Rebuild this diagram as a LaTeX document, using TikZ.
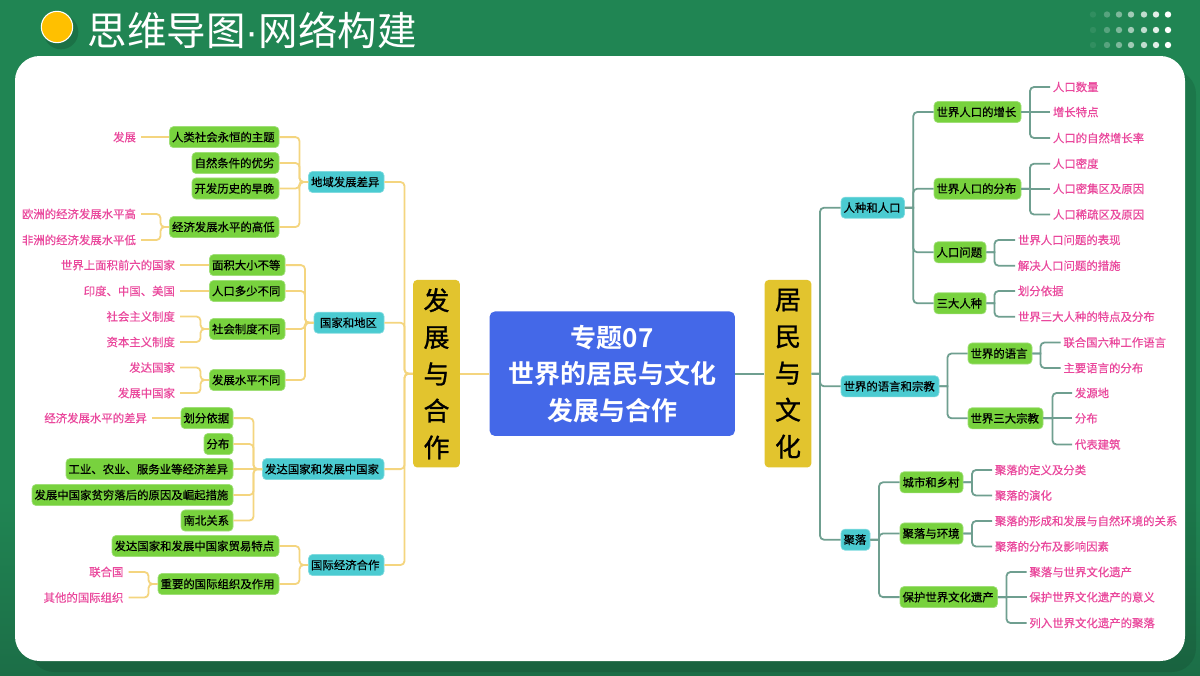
\documentclass[tikz,border=0pt]{standalone}
\usepackage{fontspec}
\setmainfont{Noto Sans CJK SC}
\newfontfamily\labfont[FakeBold=0.45]{Noto Sans CJK SC}
\newfontfamily\boxfont[FakeBold=0.6]{Noto Sans CJK SC}
\newfontfamily\rootfont[FakeBold=1]{Noto Sans CJK SC}
\newfontfamily\bigfont{Noto Sans CJK SC Bold}
\newfontfamily\dotfont{Liberation Sans}
\usetikzlibrary{calc}
\definecolor{bgg}{HTML}{208553}
\definecolor{bgd}{HTML}{1C6E47}
\definecolor{lvl}{HTML}{78D23E}
\definecolor{tealb}{HTML}{4BCBD1}
\definecolor{gold}{HTML}{E2C42E}
\definecolor{cenb}{HTML}{4468E8}
\definecolor{lline}{HTML}{F4D57F}
\definecolor{rline}{HTML}{6F9F90}
\definecolor{pinkt}{HTML}{EA479C}
\definecolor{sun}{HTML}{FFC000}
\tikzset{
 x=0.75pt,y=-0.75pt,
 boxb/.style={rounded corners=3pt,inner sep=0pt,minimum height=15.8pt,font=\boxfont\fontsize{8.55}{10}\selectfont,text=black},
 gbox/.style={boxb,fill=lvl,draw=lvl!70!white,line width=0.5pt},
 tbox/.style={boxb,fill=tealb,draw=tealb!70!white,line width=0.5pt},
 rootb/.style={rounded corners=3pt,fill=gold,inner sep=0pt,align=center,font=\rootfont\fontsize{19.5}{27.6}\selectfont,text=black},
 labl/.style={inner ysep=0pt,text=pinkt,font=\labfont\fontsize{8.55}{10}\selectfont},
 lc/.style={draw=lline,line width=1.35pt,rounded corners=3pt},
 rc/.style={draw=rline,line width=1.35pt,rounded corners=3pt},
}
% name, style, x0, x1, cy, text
\newcommand{\bx}[6]{\pgfmathsetlengthmacro{\bw}{(#4-#3)*0.75pt}\node[#2] (#1) at ({(#3+#4)/2},#5) {\makebox[\bw][l]{\hspace{1.9pt}#6}};}
% left-side label: name, east x, cy, text
\newcommand{\lL}[4]{\node[labl,anchor=east,inner xsep=3.6pt] (#1) at (#2,#3) {#4};}
% right-side label: name, west x, cy, text
\newcommand{\lR}[4]{\node[labl,anchor=west,inner xsep=2pt] (#1) at (#2,#3) {#4};}
% left-side link: child, parent, bus x
\newcommand{\cL}[3]{\draw[lc] (#1.east) -- (#1.east -| #3,0) -- (#2.west -| #3,0) [sharp corners] -- (#2.west);}
% right-side link: parent, child, bus x
\newcommand{\cR}[3]{\draw[rc] (#1.east) [sharp corners] -- (#1.east -| #3,0) [rounded corners=3pt] -- (#2.west -| #3,0) -- (#2.west);}
% straight links
\newcommand{\sL}[2]{\draw[lc] (#1.east) -- (#2.west);}
\newcommand{\sR}[2]{\draw[rc] (#1.east) -- (#2.west);}
\begin{document}
\begin{tikzpicture}
\useasboundingbox (0,0) rectangle (1200,675);
\clip (0,0) rectangle (1200,675);
\fill[bgg] (0,0) rectangle (1200,675);
\shade[top color=bgg,bottom color=bgd] (0,500) rectangle (1200,675);
\fill[black,opacity=0.10,rounded corners=18pt] (30,70) rectangle (1196,672);
\fill[white,rounded corners=18.5pt] (15,56) rectangle (1185,661);
% header
\fill[black,opacity=0.15] (61,32) circle (13pt);
\node[circle,fill=sun,draw=white,line width=0.8pt,minimum size=23.5pt,inner sep=0pt] (cdot) at (57,27) {};
\node[anchor=west,inner sep=0pt,text=white,font=\fontsize{29.6}{36}\selectfont] (title) at (87.5,30) {思维导图{\dotfont ·}网络构建};
\foreach \yy in {14.5,30,45}{
 \foreach \xx/\oo in {1093/0.08,1107/0.25,1119/0.42,1131/0.58,1144/0.72,1156/0.87,1168/1}{
  \fill[white,opacity=\oo] (\xx,\yy) circle (2.4pt);
 }
}
% centre and roots
\node[fill=cenb,rounded corners=4pt,text=white,align=center,inner sep=0pt,minimum width=184pt,minimum height=93.4pt,font=\bigfont\fontsize{19.5}{27.4}\selectfont] (cen) at (612.25,373.7) {专题07\\世界的居民与文化\\发展与合作};
\node[rootb,minimum width=35pt,minimum height=140.6pt] (rootL) at (436.5,373.7) {\raisebox{-1pt}{发}\\\raisebox{-1pt}{展}\\\raisebox{-1pt}{与}\\\raisebox{-1pt}{合}\\\raisebox{-1pt}{作}};
\node[rootb,minimum width=35pt,minimum height=140.6pt] (rootR) at (788,373.7) {\raisebox{-1pt}{居}\\\raisebox{-1pt}{民}\\\raisebox{-1pt}{与}\\\raisebox{-1pt}{文}\\\raisebox{-1pt}{化}};
\draw[lc] (rootL.east) -- (cen.west);
\draw[rc] (cen.east) -- (rootR.west);
% ---------- left
\bx{a}{tbox}{308.5}{384}{182}{地域发展差异}
\bx{b}{tbox}{314}{384}{322.7}{\hspace{2.6pt}国家和地区}
\bx{c}{tbox}{262.5}{384}{469.1}{发达国家和发展中国家}
\bx{d}{tbox}{308.5}{384}{565}{国际经济合作}
\foreach \n in {a,b,c,d}{\cL{\n}{rootL}{404.5}}
\bx{a1}{gbox}{169.5}{279}{137.1}{人类社会永恒的主题}
\bx{a2}{gbox}{192}{279}{163}{自然条件的优劣}
\bx{a3}{gbox}{192}{279}{188.5}{开发历史的早晚}
\bx{a4}{gbox}{169.5}{279}{227}{经济发展水平的高低}
\foreach \n in {a1,a2,a3,a4}{\cL{\n}{a}{299.5}}
\lL{a1x}{141}{137.1}{发展}
\sL{a1x}{a1}
\lL{a4x}{141}{214}{欧洲的经济发展水平高}
\lL{a4y}{141}{240}{非洲的经济发展水平低}
\cL{a4x}{a4}{160.5}\cL{a4y}{a4}{160.5}
\bx{b1}{gbox}{209.5}{285}{265.1}{面积大小不等}
\bx{b2}{gbox}{209.5}{285}{291}{人口多少不同}
\bx{b3}{gbox}{209.5}{285}{329}{社会制度不同}
\bx{b4}{gbox}{209.5}{285}{380}{发展水平不同}
\foreach \n in {b1,b2,b3,b4}{\cL{\n}{b}{305}}
\lL{b1x}{180}{265.1}{世界上面积前六的国家}
\lL{b2x}{180}{291}{印度、中国、美国}
\lL{b3x}{180}{316.5}{社会主义制度}
\lL{b3y}{180}{342}{资本主义制度}
\lL{b4x}{180}{367.5}{发达国家}
\lL{b4y}{180}{393}{发展中国家}
\sL{b1x}{b1}\sL{b2x}{b2}
\cL{b3x}{b3}{200.5}\cL{b3y}{b3}{200.5}
\cL{b4x}{b4}{200.5}\cL{b4y}{b4}{200.5}
\bx{c1}{gbox}{181}{233}{418.1}{划分依据}
\bx{c2}{gbox}{204}{233}{444}{分布}
\bx{c3}{gbox}{66}{233}{469.1}{工业、农业、服务业等经济差异}
\bx{c4}{gbox}{32}{233}{495}{发展中国家贫穷落后的原因及崛起措施}
\bx{c5}{gbox}{181}{233}{520.5}{南北关系}
\foreach \n in {c1,c2,c4,c5}{\cL{\n}{c}{253.5}}
\sL{c3}{c}
\lL{c1x}{152}{418.1}{经济发展水平的差异}
\sL{c1x}{c1}
\bx{d1}{gbox}{112}{279}{546}{发达国家和发展中国家贸易特点}
\bx{d2}{gbox}{158}{279}{584}{重要的国际组织及作用}
\foreach \n in {d1,d2}{\cL{\n}{d}{299.5}}
\lL{d2x}{128.5}{572}{联合国}
\lL{d2y}{128.5}{597.5}{其他的国际组织}
\cL{d2x}{d2}{148.5}\cL{d2y}{d2}{148.5}
% ---------- right
\bx{p}{tbox}{841}{904.5}{207.7}{人种和人口}
\bx{q}{tbox}{841}{939}{386.3}{世界的语言和宗教}
\bx{r}{tbox}{841}{870}{539.7}{聚落}
\foreach \n in {p,q,r}{\cR{rootR}{\n}{820}}
\bx{p1}{gbox}{934}{1021}{112}{世界人口的增长}
\bx{p2}{gbox}{934}{1021}{188.7}{世界人口的分布}
\bx{p3}{gbox}{934}{986}{252.3}{人口问题}
\bx{p4}{gbox}{934}{986}{303.3}{三大人种}
\foreach \n in {p1,p2,p3,p4}{\cR{p}{\n}{913.3}}
\lR{p1x}{1050}{87}{人口数量}
\lR{p1y}{1050}{112}{增长特点}
\lR{p1z}{1050}{138}{人口的自然增长率}
\foreach \n in {p1x,p1z}{\cR{p1}{\n}{1030}}
\sR{p1}{p1y}
\lR{p2x}{1050}{163.7}{人口密度}
\lR{p2y}{1050}{188.7}{人口密集区及原因}
\lR{p2z}{1050}{214.5}{人口稀疏区及原因}
\foreach \n in {p2x,p2z}{\cR{p2}{\n}{1030}}
\sR{p2}{p2y}
\lR{p3x}{1015}{240}{世界人口问题的表现}
\lR{p3y}{1015}{265.7}{解决人口问题的措施}
\foreach \n in {p3x,p3y}{\cR{p3}{\n}{994.5}}
\lR{p4x}{1015}{291}{划分依据}
\lR{p4y}{1015}{316.7}{世界三大人种的特点及分布}
\foreach \n in {p4x,p4y}{\cR{p4}{\n}{994.5}}
\bx{q1}{gbox}{968}{1032}{353.5}{世界的语言}
\bx{q2}{gbox}{968}{1043}{418.3}{世界三大宗教}
\foreach \n in {q1,q2}{\cR{q}{\n}{947.5}}
\lR{q1x}{1060.5}{342.5}{联合国六种工作语言}
\lR{q1y}{1060.5}{368}{主要语言的分布}
\foreach \n in {q1x,q1y}{\cR{q1}{\n}{1040.5}}
\lR{q2x}{1072}{393}{发源地}
\lR{q2y}{1072}{418.3}{分布}
\lR{q2z}{1072}{444.5}{代表建筑}
\foreach \n in {q2x,q2z}{\cR{q2}{\n}{1052.5}}
\sR{q2}{q2y}
\bx{r1}{gbox}{900}{963}{482.3}{城市和乡村}
\bx{r2}{gbox}{900}{963}{533.5}{聚落与环境}
\bx{r3}{gbox}{900}{997.5}{597.1}{保护世界文化遗产}
\foreach \n in {r1,r2,r3}{\cR{r}{\n}{879}}
\lR{r1x}{992}{470}{聚落的定义及分类}
\lR{r1y}{992}{495.5}{聚落的演化}
\foreach \n in {r1x,r1y}{\cR{r1}{\n}{972}}
\lR{r2x}{992}{521}{聚落的形成和发展与自然环境的关系}
\lR{r2y}{992}{546.5}{聚落的分布及影响因素}
\foreach \n in {r2x,r2y}{\cR{r2}{\n}{972}}
\lR{r3x}{1026.5}{572}{聚落与世界文化遗产}
\lR{r3y}{1026.5}{597.1}{保护世界文化遗产的意义}
\lR{r3z}{1026.5}{623}{列入世界文化遗产的聚落}
\foreach \n in {r3x,r3z}{\cR{r3}{\n}{1006.5}}
\sR{r3}{r3y}
\end{tikzpicture}
\end{document}
